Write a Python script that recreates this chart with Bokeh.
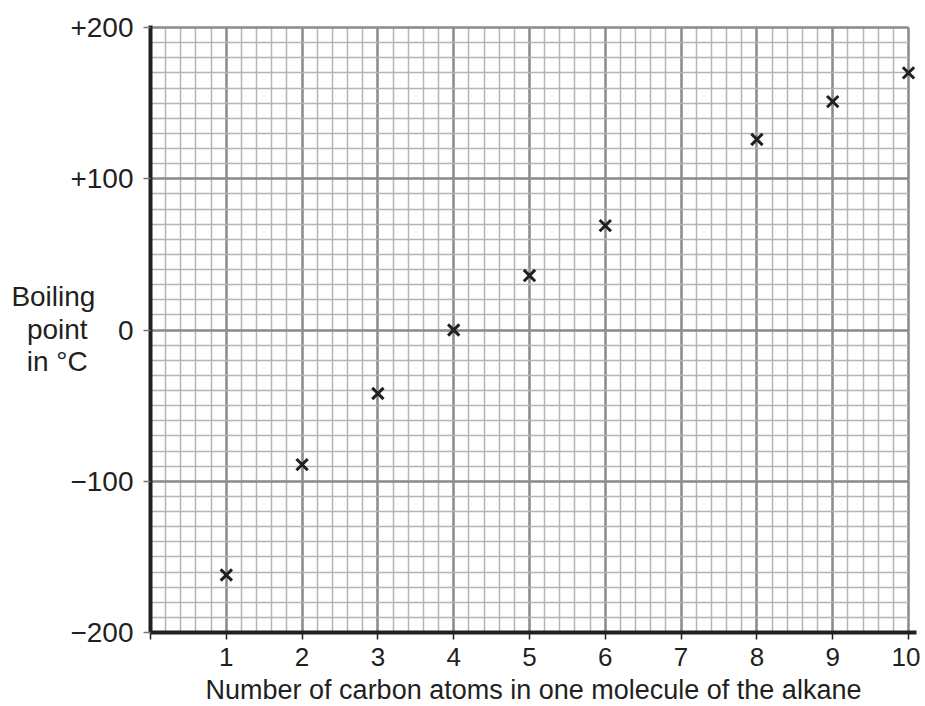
import numpy as np
from bokeh.plotting import figure
from bokeh.models import FixedTicker, Range1d, Grid
from bokeh.embed import file_html
from bokeh.resources import INLINE

carbon_atoms = [1, 2, 3, 4, 5, 6, 8, 9, 10]
boiling_points = [-162, -89, -42, 0, 36, 69, 126, 151, 170]

x_ticks = [0, 1, 2, 3, 4, 5, 6, 7, 8, 9, 10]
y_ticks = [-200, -100, 0, 100, 200]
y_tick_labels = {200: "+200", 100: "+100", 0: "0", -100: "\u2212100", -200: "\u2212200"}
x_tick_labels = {0: ""}
y_label_lines = ["Boiling", "point ", "in \u00b0C "]
x_label = "Number of carbon atoms in one molecule of the alkane"

FONT = "Liberation Sans"
INK = "#231f20"

PX_X = 75.8      # pixels per x unit
PX_Y = 1.5125    # pixels per y unit
x_max, y_min, y_max = max(x_ticks), min(y_ticks), max(y_ticks)
x_end = x_max + 8 / PX_X
y_end = y_max + 2 / PX_Y

p = figure(frame_width=766, frame_height=607,
           min_border_left=150, min_border_top=25, min_border_right=4, min_border_bottom=71,
           x_range=Range1d(0, x_end), y_range=Range1d(y_min, y_end),
           output_backend="svg", toolbar_location=None)

x_minor = list(np.round(np.arange(0, x_max + 0.0001, 0.2), 3))
y_minor = list(np.arange(y_min, y_max + 1, 10))

p.xaxis.ticker = FixedTicker(ticks=x_ticks)
p.yaxis.ticker = FixedTicker(ticks=y_ticks)
p.xgrid.ticker = FixedTicker(ticks=x_ticks, minor_ticks=x_minor)
p.ygrid.ticker = FixedTicker(ticks=y_ticks, minor_ticks=y_minor)

has_cross = "cross_bounds" in Grid.properties()
for g in (p.xgrid, p.ygrid):
    g.grid_line_color = "#8c8c8c"
    g.grid_line_width = 2.5
    g.minor_grid_line_color = "#b5b5b5"
    g.minor_grid_line_width = 1.5
if has_cross:
    # the graph paper stops at the last major line
    p.ygrid.cross_bounds = (0, x_max)
    p.xgrid.cross_bounds = (y_min, y_max)

p.outline_line_color = None

p.xaxis.major_label_overrides = x_tick_labels
p.yaxis.major_label_overrides = y_tick_labels
for ax in (p.xaxis, p.yaxis):
    ax.axis_line_color = INK
    ax.axis_line_width = 4
    ax.major_tick_in = 0
    ax.major_tick_out = 7
    ax.major_tick_line_width = 1.5
    ax.minor_tick_line_color = None
    ax.major_label_text_font = FONT
    ax.major_label_text_color = INK
    ax.axis_label_text_font = FONT
    ax.axis_label_text_color = INK
    ax.axis_label_text_font_style = "normal"
p.xaxis.major_label_text_font_size = "26px"
p.yaxis.major_label_text_font_size = "28px"
p.xaxis.axis_label_text_font_size = "27px"
p.xaxis.major_tick_line_color = INK
p.yaxis.major_tick_line_color = "#777777"
p.xaxis.major_label_standoff = 8
p.yaxis.major_label_standoff = 10
p.xaxis.axis_label = x_label
p.xaxis.axis_label_standoff = 6

p.yaxis.axis_label = "\n".join(y_label_lines)
p.yaxis.axis_label_orientation = "horizontal"
p.yaxis.axis_label_text_font_size = "28px"
p.yaxis.axis_label_text_line_height = 1.05
p.yaxis.axis_label_standoff = -28

p.scatter(carbon_atoms, boiling_points, marker="x", size=16, line_width=3, color=INK)

open("out.html", "w").write(file_html(p, INLINE))
